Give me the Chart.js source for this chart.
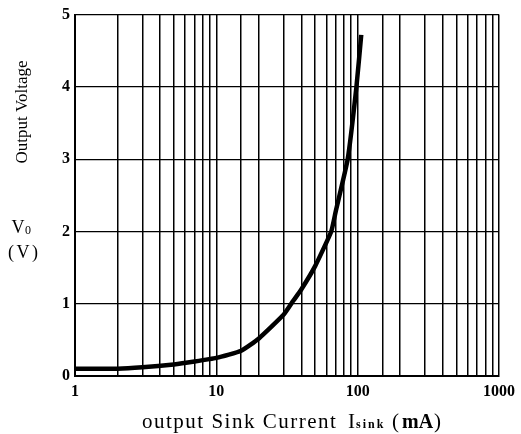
<!DOCTYPE html>
<html>
<head>
<meta charset="utf-8">
<script src="https://cdn.jsdelivr.net/npm/chart.js@4"></script>
<style>
  html, body { margin: 0; padding: 0; background: #fff; }
  #wrap { width: 521px; height: 434px; }
</style>
</head>
<body>
<div id="wrap"><canvas id="c" width="521" height="434"></canvas></div>
<script>
const sinkCurrent = [1, 2, 3, 5, 7, 10, 15, 20, 30, 35, 40, 50, 65, 70, 85, 98, 106];
const outputVoltage = [0.1, 0.1, 0.12, 0.16, 0.2, 0.25, 0.35, 0.52, 0.85, 1.04, 1.2, 1.52, 2.0, 2.28, 3.0, 4.0, 4.72];
const xTickLabels = [1, 10, 100, 1000];
const yTickLabels = [0, 1, 2, 3, 4, 5];

const serif = '"Liberation Serif", "DejaVu Serif", serif';

const axisText = {
    id: 'axisText',
    afterDraw(chart) {
        const ctx = chart.ctx;
        ctx.save();
        ctx.fillStyle = '#000';

        // y axis title
        ctx.font = '17px ' + serif;
        ctx.textAlign = 'center';
        ctx.textBaseline = 'middle';
        ctx.save();
        ctx.translate(23, 112);
        ctx.rotate(-Math.PI / 2);
        ctx.fillText('Output Voltage', 0, 0);
        ctx.restore();
        ctx.font = '18px ' + serif;
        ctx.fillText('V', 18, 228);
        ctx.font = '12px ' + serif;
        ctx.fillText('0', 28, 231);
        ctx.font = '18px ' + serif;
        ctx.fillText('(', 11, 253);
        ctx.fillText('V', 23, 253);
        ctx.fillText(')', 35, 253);

        // x axis title
        const y = 428;
        ctx.textAlign = 'left';
        ctx.textBaseline = 'alphabetic';
        ctx.letterSpacing = '1.5px';
        ctx.font = '21px ' + serif;
        ctx.fillText('output Sink Current', 142, y);
        ctx.letterSpacing = '0px';
        ctx.fillText('I', 348, y);
        ctx.letterSpacing = '2px';
        ctx.font = 'bold 12px ' + serif;
        ctx.fillText('sink', 356, y);
        ctx.letterSpacing = '0px';
        ctx.font = '21px ' + serif;
        ctx.fillText('(', 392, y);
        ctx.font = 'bold 20px ' + serif;
        ctx.fillText('mA', 402, y);
        ctx.font = '21px ' + serif;
        ctx.fillText(')', 434, y);
        ctx.restore();
    }
};

const ctx = document.getElementById('c').getContext('2d');
new Chart(ctx, {
    type: 'line',
    data: {
        datasets: [{
            data: sinkCurrent.map((v, i) => ({ x: v, y: outputVoltage[i] })),
            borderColor: '#000',
            borderWidth: 4.5,
            pointRadius: 0,
            tension: 0.15,
            fill: false
        }]
    },
    options: {
        responsive: false,
        animation: false,
        devicePixelRatio: 1,
        layout: { padding: { top: 13, right: 21, left: 0, bottom: 0 } },
        plugins: { legend: { display: false }, tooltip: { enabled: false } },
        scales: {
            x: {
                type: 'logarithmic',
                min: 1,
                max: 1000,
                afterFit: s => { s.height = 58; },
                grid: { color: '#000', lineWidth: 1.5, drawTicks: false },
                border: { color: '#000', width: 2 },
                ticks: {
                    color: '#000',
                    font: { family: serif, size: 16, weight: 'bold' },
                    padding: 6,
                    maxRotation: 0,
                    autoSkip: false,
                    callback: v => xTickLabels.includes(v) ? String(v) : ''
                }
            },
            y: {
                min: 0,
                max: 5,
                afterFit: s => { s.width = 75; },
                grid: { color: '#000', lineWidth: 1.2, drawTicks: false },
                border: { color: '#000', width: 2 },
                ticks: {
                    color: '#000',
                    stepSize: 1,
                    font: { family: serif, size: 16, weight: 'bold' },
                    padding: 5,
                    callback: v => yTickLabels.includes(v) ? String(v) : ''
                }
            }
        }
    },
    plugins: [axisText]
});
</script>
</body>
</html>
